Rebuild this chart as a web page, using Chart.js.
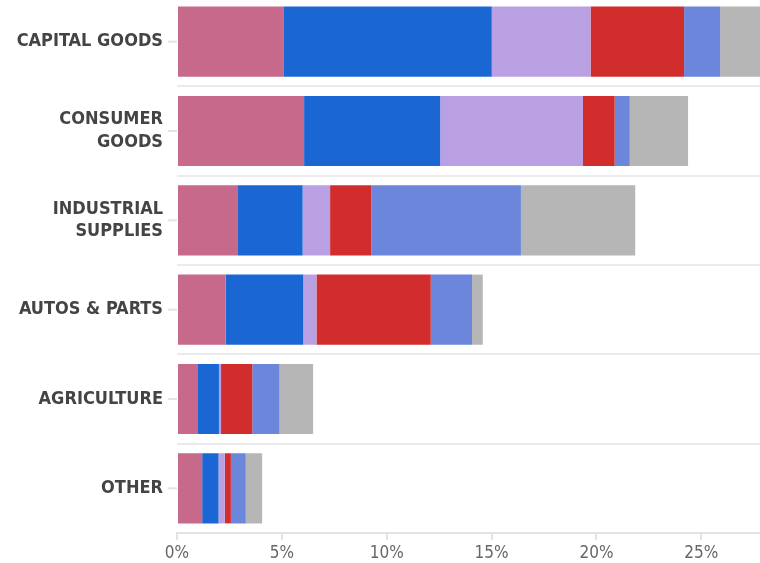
<!DOCTYPE html>
<html>
<head>
<meta charset="utf-8">
<script src="https://cdn.jsdelivr.net/npm/chart.js@4/dist/chart.umd.min.js"></script>
<style>
  html, body { margin: 0; padding: 0; background: #fff; overflow: hidden; }
  #wrap { position: absolute; left: 0; top: -3px; width: 760px; height: 566px; }
</style>
</head>
<body>
<div id="wrap"><canvas id="c"></canvas></div>
<script>
const categories = ['CAPITAL GOODS', ['CONSUMER', 'GOODS'], ['INDUSTRIAL', 'SUPPLIES'], 'AUTOS & PARTS', 'AGRICULTURE', 'OTHER'];
const series1 = [5.1, 6.06, 2.91, 2.32, 1.0, 1.2];
const series2 = [9.91, 6.49, 3.08, 3.7, 1.0, 0.78];
const series3 = [4.71, 6.81, 1.31, 0.63, 0.1, 0.3];
const series4 = [4.46, 1.51, 1.97, 5.45, 1.49, 0.29];
const series5 = [1.72, 0.72, 7.13, 1.97, 1.3, 0.71];
const series6 = [2.1, 2.78, 5.45, 0.51, 1.6, 0.78];
const xTicks = [0, 5, 10, 15, 20, 25];
const xMax = 27.8;

const colors = ['#c6698a', '#1a67d4', '#b9a0e3', '#d22d2d', '#6b86db', '#b6b6b6'];
const allSeries = [series1, series2, series3, series4, series5, series6];

const FONT = "'Liberation Sans Narrow', 'DejaVu Sans Condensed', Roboto, sans-serif";

const centerTicks = {
  id: 'centerTicks',
  afterDraw(chart) {
    const s = chart.scales.y;
    const ctx = chart.ctx;
    ctx.save();
    ctx.strokeStyle = '#e3e3e3';
    ctx.lineWidth = 2;
    s.ticks.forEach((t, i) => {
      const y = s.getPixelForTick(i);
      ctx.beginPath();
      ctx.moveTo(chart.chartArea.left - 9, y);
      ctx.lineTo(chart.chartArea.left, y);
      ctx.stroke();
    });
    ctx.restore();
  }
};

new Chart(document.getElementById('c'), {
  type: 'bar',
  data: {
    labels: categories,
    datasets: allSeries.map((d, i) => ({
      label: 'Series ' + (i + 1),
      data: d,
      backgroundColor: colors[i],
      borderWidth: 0,
      barPercentage: 0.785,
      categoryPercentage: 1
    }))
  },
  options: {
    indexAxis: 'y',
    responsive: true,
    maintainAspectRatio: false,
    animation: false,
    layout: { padding: 0 },
    plugins: { legend: { display: false }, tooltip: { enabled: false } },
    scales: {
      x: {
        stacked: true,
        min: 0,
        max: xMax,
        afterBuildTicks: s => { s.ticks = xTicks.map(v => ({ value: v })); },
        afterFit: s => { s.height = 30; s.paddingLeft = 0; s.paddingRight = 0; },
        border: { display: true, color: '#e3e3e3', width: 2 },
        grid: { display: true, drawOnChartArea: false, drawTicks: true, tickLength: 7, color: '#e3e3e3', lineWidth: 2 },
        ticks: {
          padding: 3,
          color: '#666',
          font: { family: FONT, size: 17 },
          callback: v => v + '%',
          maxRotation: 0
        }
      },
      y: {
        stacked: true,
        afterFit: s => { s.width = 177; s.paddingTop = 0; s.paddingBottom = 0; },
        border: { display: false },
        grid: { display: true, offset: true, drawTicks: false, color: '#ebebeb', lineWidth: 2 },
        ticks: {
          padding: 14,
          color: '#444',
          font: { family: FONT, size: 18, weight: 'bold', lineHeight: 1.25 }
        }
      }
    }
  },
  plugins: [centerTicks]
});
</script>
</body>
</html>
